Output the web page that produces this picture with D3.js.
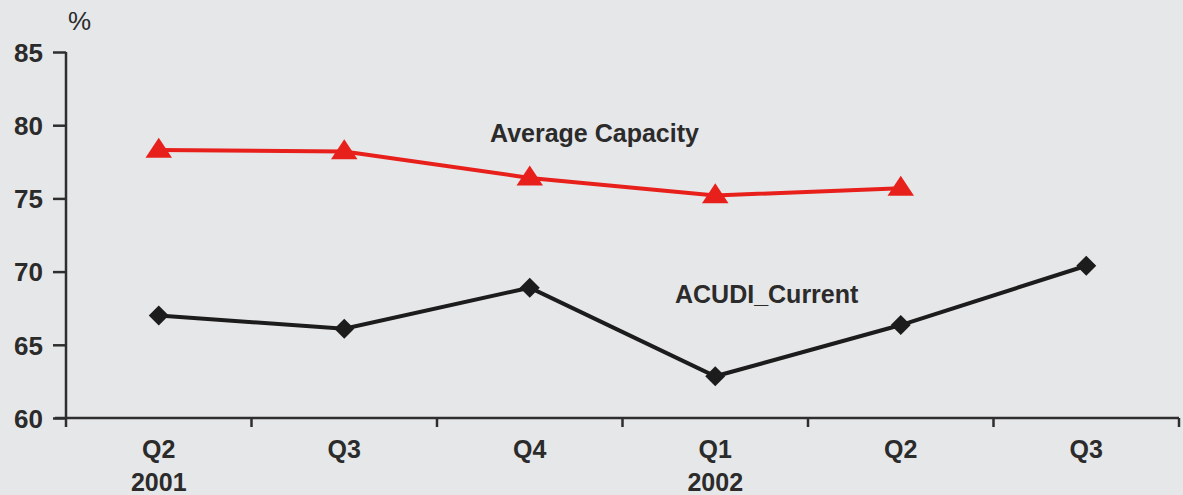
<!DOCTYPE html>
<html>
<head>
<meta charset="utf-8">
<script src="https://cdn.jsdelivr.net/npm/d3@7"></script>
<style>
  html, body { margin: 0; padding: 0; background: #e6e7e9; }
  svg { display: block; }
  text { font-family: "Liberation Sans", Arial, sans-serif; }
</style>
</head>
<body>
<svg id="chart" width="1183" height="495"></svg>
<script>
// data
const quarters = ["Q2", "Q3", "Q4", "Q1", "Q2", "Q3"];
const years = ["2001", "", "", "2002", "", ""];
const avgCapacity = [78.3, 78.2, 76.4, 75.2, 75.7];
const acudiCurrent = [67.0, 66.1, 68.9, 62.85, 66.35, 70.4];
const yTicks = [60, 65, 70, 75, 80, 85];

const W = 1183, H = 495;
const margin = { left: 66, right: 4, top: 52, bottom: 77 };

const svg = d3.select("#chart");

const x = d3.scaleBand()
  .domain(d3.range(quarters.length))
  .range([margin.left, W - margin.right]);

const y = d3.scaleLinear()
  .domain([60, 85])
  .range([H - margin.bottom, margin.top]);

const axisColor = "#2e2e2e";

// y axis
const yAxis = svg.append("g")
  .attr("transform", `translate(${margin.left},0)`)
  .call(d3.axisLeft(y).tickValues(yTicks).tickSize(13).tickPadding(10));
yAxis.select(".domain").remove();
yAxis.append("line")
  .attr("x1", 0).attr("x2", 0)
  .attr("y1", y(85)).attr("y2", y(60) + 9)
  .attr("stroke", axisColor).attr("stroke-width", 2.5);
yAxis.selectAll(".tick line").attr("stroke", axisColor).attr("stroke-width", 2.5);
yAxis.selectAll(".tick text")
  .attr("fill", "#2b2b2b")
  .style("font-size", "26px")
  .style("font-weight", "bold")
  .attr("dy", "0.36em");

// x axis with ticks between categories
const xAxis = svg.append("g").attr("transform", `translate(0,${y(60)})`);
xAxis.append("line")
  .attr("x1", margin.left - 11).attr("x2", W - margin.right)
  .attr("stroke", axisColor).attr("stroke-width", 2.5);
const edges = quarters.map((q, i) => x(i) + x.bandwidth());
xAxis.selectAll("line.tk")
  .data(edges)
  .enter()
  .append("line")
  .attr("class", "tk")
  .attr("x1", d => d).attr("x2", d => d)
  .attr("y1", 0).attr("y2", 9)
  .attr("stroke", axisColor).attr("stroke-width", 2.5);

const labels = xAxis.selectAll("g.lbl")
  .data(quarters)
  .enter()
  .append("g")
  .attr("transform", (d, i) => `translate(${x(i) + x.bandwidth() / 2},0)`);
labels.append("text")
  .attr("y", 40)
  .attr("text-anchor", "middle")
  .attr("fill", "#2b2b2b")
  .style("font-size", "25px")
  .style("font-weight", "bold")
  .text(d => d);
labels.append("text")
  .attr("y", 73)
  .attr("text-anchor", "middle")
  .attr("fill", "#2b2b2b")
  .style("font-size", "25px")
  .style("font-weight", "bold")
  .text((d, i) => years[i]);

// % unit
svg.append("text")
  .attr("x", 68).attr("y", 30)
  .attr("fill", "#2b2b2b")
  .style("font-size", "26px")
  .text("%");

const cx = i => x(i) + x.bandwidth() / 2;

// lines
const line = d3.line().x((d, i) => cx(i)).y(d => y(d));

svg.append("path")
  .datum(avgCapacity)
  .attr("d", line)
  .attr("fill", "none")
  .attr("stroke", "#e8201c")
  .attr("stroke-width", 4);

svg.append("path")
  .datum(acudiCurrent)
  .attr("d", line)
  .attr("fill", "none")
  .attr("stroke", "#1c1c1c")
  .attr("stroke-width", 4);

// markers
svg.selectAll("path.tri")
  .data(avgCapacity)
  .enter()
  .append("path")
  .attr("class", "tri")
  .attr("d", d3.symbol().type(d3.symbolTriangle).size(230))
  .attr("transform", (d, i) => `translate(${cx(i)},${y(d) + 1}) scale(1.15,1)`)
  .attr("fill", "#e8201c");

svg.selectAll("path.dia")
  .data(acudiCurrent)
  .enter()
  .append("path")
  .attr("class", "dia")
  .attr("d", d3.symbol().type(d3.symbolSquare).size(200))
  .attr("transform", (d, i) => `translate(${cx(i)},${y(d)}) rotate(45)`)
  .attr("fill", "#1c1c1c");

// series labels
svg.append("text")
  .attr("x", 490).attr("y", 142)
  .attr("fill", "#2b2b2b")
  .style("font-size", "25px")
  .style("font-weight", "bold")
  .text("Average Capacity");

svg.append("text")
  .attr("x", 675).attr("y", 303)
  .attr("fill", "#2b2b2b")
  .style("font-size", "25px")
  .style("font-weight", "bold")
  .text("ACUDI_Current");
</script>
</body>
</html>
